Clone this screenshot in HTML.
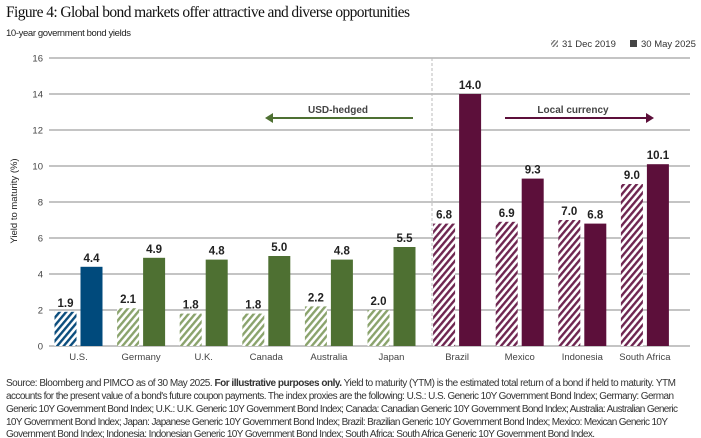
<!DOCTYPE html>
<html><head><meta charset="utf-8"><style>
html,body{margin:0;padding:0;background:#fff;}
svg{display:block;}
text{font-family:"Liberation Sans Narrow","Liberation Sans",sans-serif;}
</style></head><body>
<svg id="chart" width="701" height="438" viewBox="0 0 701 438" xmlns="http://www.w3.org/2000/svg">
<defs>
<pattern id="hb" patternUnits="userSpaceOnUse" width="5" height="5" patternTransform="rotate(40)"><rect width="5" height="5" fill="#fff"/><rect width="2.4" height="5" fill="#0b4d7d"/></pattern>
<pattern id="hg" patternUnits="userSpaceOnUse" width="5" height="5" patternTransform="rotate(40)"><rect width="5" height="5" fill="#fff"/><rect width="2.4" height="5" fill="#8aa36c"/></pattern>
<pattern id="hm" patternUnits="userSpaceOnUse" width="5" height="5" patternTransform="rotate(40)"><rect width="5" height="5" fill="#fff"/><rect width="2.4" height="5" fill="#6e2550"/></pattern>
<pattern id="hk" patternUnits="userSpaceOnUse" width="3" height="3" patternTransform="rotate(40)"><rect width="3" height="3" fill="#fff"/><rect width="1.4" height="3" fill="#777"/></pattern>
</defs>
<text x="6" y="17" font-size="15.5" font-family="Liberation Serif, serif" style="font-family:'Liberation Serif',serif" fill="#111" textLength="404">Figure 4: Global bond markets offer attractive and diverse opportunities</text>
<text x="6" y="36" font-size="9.5" fill="#222" textLength="125">10-year government bond yields</text>
<text transform="translate(17,201) rotate(-90)" text-anchor="middle" font-size="9.5" fill="#222">Yield to maturity (%)</text>
<g>
<rect x="551" y="40" width="7" height="7" fill="url(#hk)"/>
<text x="562" y="47" font-size="9.5" fill="#333">31 Dec 2019</text>
<rect x="630" y="40" width="7" height="7" fill="#444"/>
<text x="641" y="47" font-size="9.5" fill="#333">30 May 2025</text>
</g>
<g id="grid"></g>
<line x1="432" y1="58" x2="432" y2="346" stroke="#bbb" stroke-dasharray="3,2"/>
<g id="bars"></g>
<g>
<text x="338" y="113" text-anchor="middle" font-size="10" font-weight="bold" fill="#444">USD-hedged</text>
<line x1="272" y1="118" x2="413" y2="118" stroke="#4e7032" stroke-width="2"/>
<polygon points="265,118 273,113 273,123" fill="#4e7032"/>
</g>
<g>
<text x="573" y="113" text-anchor="middle" font-size="10" font-weight="bold" fill="#444">Local currency</text>
<line x1="505" y1="118" x2="646" y2="118" stroke="#5c0f3a" stroke-width="2"/>
<polygon points="654,118 646,113 646,123" fill="#5c0f3a"/>
</g>
<g font-size="10" fill="#333">
<text x="6" y="386" textLength="670">Source: Bloomberg and PIMCO as of 30 May 2025. <tspan font-weight="bold">For illustrative purposes only.</tspan> Yield to maturity (YTM) is the estimated total return of a bond if held to maturity. YTM</text>
<text x="6" y="399" textLength="668">accounts for the present value of a bond's future coupon payments. The index proxies are the following: U.S.: U.S. Generic 10Y Government Bond Index; Germany: German</text>
<text x="6" y="412" textLength="672">Generic 10Y Government Bond Index; U.K.: U.K. Generic 10Y Government Bond Index; Canada: Canadian Generic 10Y Government Bond Index; Australia: Australian Generic</text>
<text x="6" y="425" textLength="662">10Y Government Bond Index; Japan: Japanese Generic 10Y Government Bond Index; Brazil: Brazilian Generic 10Y Government Bond Index; Mexico: Mexican Generic 10Y</text>
<text x="6" y="437" textLength="589">Government Bond Index; Indonesia: Indonesian Generic 10Y Government Bond Index; South Africa: South Africa Generic 10Y Government Bond Index.</text>
</g>
</svg>
<script>
const categories = ["U.S.","Germany","U.K.","Canada","Australia","Japan","Brazil","Mexico","Indonesia","South Africa"];
const values2019 = [1.9,2.1,1.8,1.8,2.2,2.0,6.8,6.9,7.0,9.0];
const values2025 = [4.4,4.9,4.8,5.0,4.8,5.5,14.0,9.3,6.8,10.1];
const yTicks = [0,2,4,6,8,10,12,14,16];
const groupColor = ["blue","green","green","green","green","green","maroon","maroon","maroon","maroon"];

const NS = "http://www.w3.org/2000/svg";
const y = v => 346 - v * 18;
const xc = i => 78.5 + i * 62.6 + (i >= 6 ? 3 : 0);
const solid = {blue:"#004a7c", green:"#4e7032", maroon:"#5c0f3a"};
const hatch = {blue:"url(#hb)", green:"url(#hg)", maroon:"url(#hm)"};
function mk(tag, attrs, parent){const e=document.createElementNS(NS,tag);for(const k in attrs)e.setAttribute(k,attrs[k]);parent.appendChild(e);return e;}
const grid = document.getElementById('grid');
yTicks.forEach(t=>{
  const l = mk('line',{x1:49,x2:690,y1:y(t),y2:y(t),stroke:'#888','stroke-width':1},grid);
  
  
  const tx = mk('text',{x:43,y:y(t)+3.5,'text-anchor':'end','font-size':9.5,fill:'#444'},grid);
  tx.textContent = t;
  
  
});
const bars = document.getElementById('bars');
const bw = 22;
categories.forEach((c,i)=>{
  const cx = xc(i), g = groupColor[i];
  const b1 = mk('rect',{x:cx-bw-2,y:y(values2019[i]),width:bw,height:values2019[i]*18,fill:hatch[g]},bars);
  
  
  const b2 = mk('rect',{x:cx+2,y:y(values2025[i]),width:bw,height:values2025[i]*18,fill:solid[g]},bars);
  
  
  const l1 = mk('text',{x:cx-bw/2-2,y:y(values2019[i])-5,'text-anchor':'middle','font-size':11.5,'font-weight':'bold',fill:'#222'},bars);
  l1.textContent = values2019[i].toFixed(1);
  
  
  const l2 = mk('text',{x:cx+bw/2+2,y:y(values2025[i])-5,'text-anchor':'middle','font-size':11.5,'font-weight':'bold',fill:'#222'},bars);
  l2.textContent = values2025[i].toFixed(1);
  
  
  const cl = mk('text',{x:cx,y:360,'text-anchor':'middle','font-size':9.5,fill:'#444'},bars);
  cl.textContent = c;
  
  
});
</script>
</body></html>
